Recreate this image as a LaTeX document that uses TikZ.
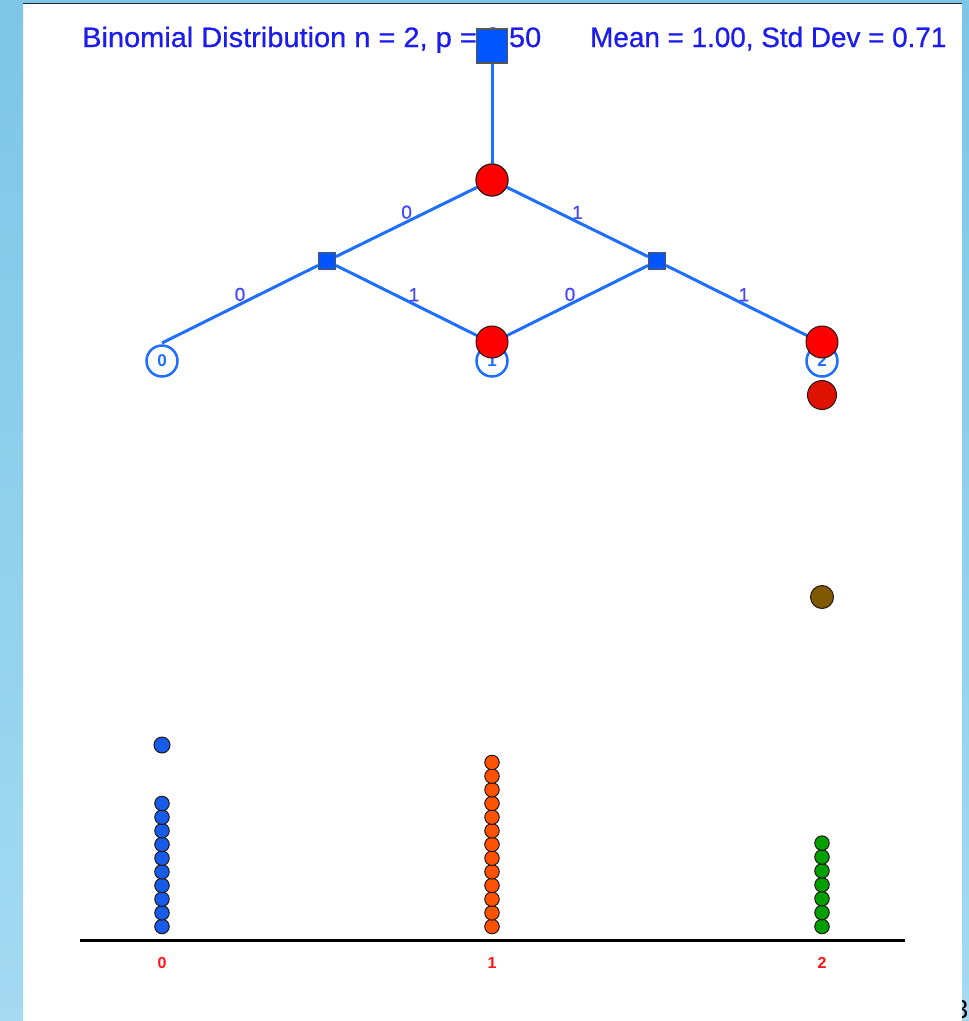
\documentclass[tikz,border=0pt]{standalone}
\usepackage{fontspec}
\setmainfont{Liberation Sans}
\newfontfamily\heavysans{Liberation Sans}[FakeBold=0.7]
\definecolor{frameTop}{RGB}{124,198,232}
\definecolor{frameBot}{RGB}{164,218,242}
\definecolor{edgeblue}{RGB}{30,110,255}
\definecolor{titleblue}{RGB}{28,28,236}
\definecolor{lblblue}{RGB}{70,70,255}
\definecolor{sqblue}{RGB}{0,85,255}
\definecolor{sqedge}{RGB}{85,85,85}
\definecolor{ballrim}{RGB}{35,22,22}
\definecolor{redA}{RGB}{255,0,0}
\definecolor{redB}{RGB}{222,18,0}
\definecolor{brownball}{RGB}{128,88,0}
\definecolor{ballblue}{RGB}{22,92,232}
\definecolor{ballorange}{RGB}{255,82,0}
\definecolor{ballgreen}{RGB}{0,160,0}
\definecolor{axisred}{RGB}{255,20,20}
\begin{document}
\begin{tikzpicture}[x=1pt,y=-1pt,
  treeedge/.style={draw=edgeblue,line width=3pt},
  bigsq/.style={draw=sqedge,fill=sqblue,line width=1.5pt,minimum width=31pt,minimum height=34pt,inner sep=0pt},
  smsq/.style={draw=sqedge,fill=sqblue,line width=1pt,minimum size=17pt,inner sep=0pt},
  redball/.style={circle,draw=ballrim,fill=redA,line width=1pt,minimum size=32pt,inner sep=0pt},
  leaf/.style={circle,draw=edgeblue,fill=white,line width=2.5pt,minimum size=31pt,inner sep=0pt,
    text=edgeblue,font=\fontsize{17}{17}\selectfont\bfseries},
  elabel/.style={text=lblblue,font=\heavysans\fontsize{19}{19}\selectfont,inner sep=1.5pt,anchor=south},
  ball/.style={circle,draw=ballrim,line width=1pt,minimum size=14.5pt,inner sep=0pt},
  axlabel/.style={text=axisred,font=\fontsize{16}{16}\selectfont\bfseries,inner sep=0pt},
  headtext/.style={text=titleblue,font=\heavysans\fontsize{28}{28}\selectfont,inner sep=0pt,anchor=base west}]

% page and frame
\useasboundingbox (0,0) rectangle (969,1021);
\fill[white] (0,0) rectangle (969,1021);
\shade[top color=frameTop,bottom color=frameBot] (0,0) rectangle (23,1021);
\shade[top color=frameTop,bottom color=frameBot] (962,0) rectangle (969,1021);
\fill[frameTop] (0,0) rectangle (969,3);
\draw[line width=1.5pt,black!85] (23,3.6) -- (962,3.6);

% headings
\node[headtext] (title) at (82,47) {\scalebox{1.035}[1]{Binomial Distribution n = 2, p = 0.50}};
\node[headtext] (stats) at (590,47) {\scalebox{0.995}[1]{Mean = 1.00, Std Dev = 0.71}};

% tree positions
\coordinate (e0) at (162,343);
\coordinate (e1) at (492,343);
\coordinate (e2) at (822,343);
\node[leaf] (leaf0) at (162,361) {0};
\node[leaf] (leaf1) at (492,361) {1};
\node[leaf] (leaf2) at (822,361) {2};
\node[bigsq] (start) at (492,46) {};
\node[redball] (root) at (492,180) {};
\node[smsq] (sqL) at (327,261) {};
\node[smsq] (sqR) at (657,261) {};

% branches
\draw[treeedge] (start) -- (root);
\draw[treeedge] (root) -- node[elabel] {0} (sqL);
\draw[treeedge] (root) -- node[elabel] {1} (sqR);
\draw[treeedge] (sqL) -- node[elabel] {0} (e0);
\draw[treeedge] (sqL) -- node[elabel] {1} (e1);
\draw[treeedge] (sqR) -- node[elabel] {0} (e1);
\draw[treeedge] (sqR) -- node[elabel] {1} (e2);

% redraw nodes on top of branches
\node[bigsq] at (start) {};
\node[redball] at (root) {};
\node[smsq] at (sqL) {};
\node[smsq] at (sqR) {};

% balls in motion
\node[redball] (ballA) at (492,342) {};
\node[redball] (ballB) at (822,342) {};
\node[redball,fill=redB,minimum size=29pt] (ballC) at (822,395) {};
\node[ball,fill=brownball,minimum size=23pt] (ballD) at (822,597) {};
\node[ball,fill=ballblue,minimum size=16pt] (ballE) at (162,745) {};

% landed balls
\foreach \i in {0,...,9}
  \node[ball,fill=ballblue] (b\i) at (162,926.5-13.67*\i) {};
\foreach \i in {0,...,12}
  \node[ball,fill=ballorange] (o\i) at (492,926.5-13.67*\i) {};
\foreach \i in {0,...,6}
  \node[ball,fill=ballgreen] (g\i) at (822,926.5-13.9*\i) {};

% axis
\coordinate (axL) at (80,940);
\coordinate (axR) at (905,940);
\draw[line width=3pt] (axL) -- (axR);
\node[axlabel] (x0) at (162,963) {0};
\node[axlabel] (x1) at (492,963) {1};
\node[axlabel] (x2) at (822,963) {2};

% clipped page number at the lower right
\begin{scope}
  \clip (962.5,990) rectangle (969,1021);
  \node[anchor=base,font=\fontsize{26}{26}\selectfont,inner sep=0pt] (pg) at (961,1018) {3};
\end{scope}
\end{tikzpicture}
\end{document}
